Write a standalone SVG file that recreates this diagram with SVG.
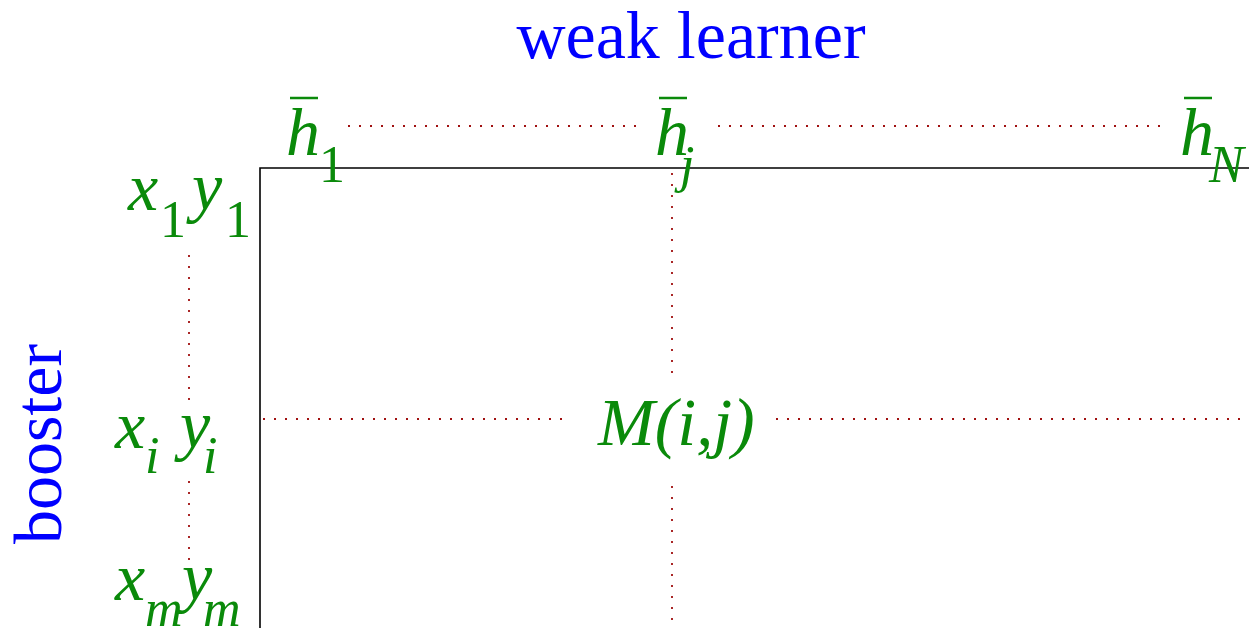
<svg xmlns="http://www.w3.org/2000/svg" width="1249" height="628" viewBox="0 0 1249 628">
<style>
.lbl{font-family:"Liberation Serif",serif;fill:#0000ff;font-size:68px}
.m{font-family:"Liberation Serif",serif;fill:#0a8a0a;font-size:68px;font-style:italic}
.s{font-family:"Liberation Serif",serif;fill:#0a8a0a;font-size:52px;font-style:italic}
.d{font-family:"Liberation Serif",serif;fill:#0a8a0a;font-size:52px}
.dot{stroke:#a01010;stroke-width:1.8;stroke-dasharray:2 9;fill:none}
.bar{stroke:#0a8a0a;stroke-width:2.5}
</style>
<rect width="1249" height="628" fill="#fff"/>
<g id="titles">
<text class="lbl" x="691" y="58" text-anchor="middle">weak learner</text>
<text class="lbl" transform="translate(61,444) rotate(-90)" text-anchor="middle">booster</text>
</g>
<g id="matrix">
<path d="M260,628 V168 H1249" stroke="#000" stroke-width="1.6" fill="none"/>
</g>
<g id="connectors">
<line class="dot" x1="348" y1="126" x2="636" y2="126"/>
<line class="dot" x1="718" y1="126" x2="1166" y2="126"/>
<line class="dot" x1="672" y1="173" x2="672" y2="376"/>
<line class="dot" x1="672" y1="486" x2="672" y2="628"/>
<line class="dot" x1="263" y1="419" x2="571" y2="419"/>
<line class="dot" x1="776" y1="419" x2="1249" y2="419"/>
<line class="dot" x1="189" y1="255" x2="189" y2="400"/>
<line class="dot" x1="189" y1="481" x2="189" y2="560"/>
</g>
<g id="h1">
<line class="bar" x1="290" y1="98" x2="318" y2="98"/>
<text class="m" x="286" y="155">h</text>
<text class="d" x="319" y="182">1</text>
</g>
<g id="hj">
<line class="bar" x1="659" y1="98" x2="687" y2="98"/>
<text class="m" x="655" y="155">h</text>
<text class="s" x="680" y="182">j</text>
</g>
<g id="hN">
<line class="bar" x1="1184" y1="98" x2="1212" y2="98"/>
<text class="m" x="1180" y="155">h</text>
<text class="s" x="1209" y="182">N</text>
</g>
<g id="x1y1">
<text class="m" x="128" y="210">x</text>
<text class="d" x="160" y="237">1</text>
<text class="m" x="192" y="210">y</text>
<text class="d" x="225" y="237">1</text>
</g>
<g id="xiyi">
<text class="m" x="115" y="448">x</text>
<text class="s" x="145" y="473">i</text>
<text class="m" x="180" y="448">y</text>
<text class="s" x="203" y="473">i</text>
</g>
<g id="xmym">
<text class="m" x="115" y="600">x</text>
<text class="s" x="145" y="626">m</text>
<text class="m" x="182" y="600">y</text>
<text class="s" x="203" y="626">m</text>
</g>
<g id="Mij">
<text class="m" x="598" y="445">M(i,j)</text>
</g>
</svg>
